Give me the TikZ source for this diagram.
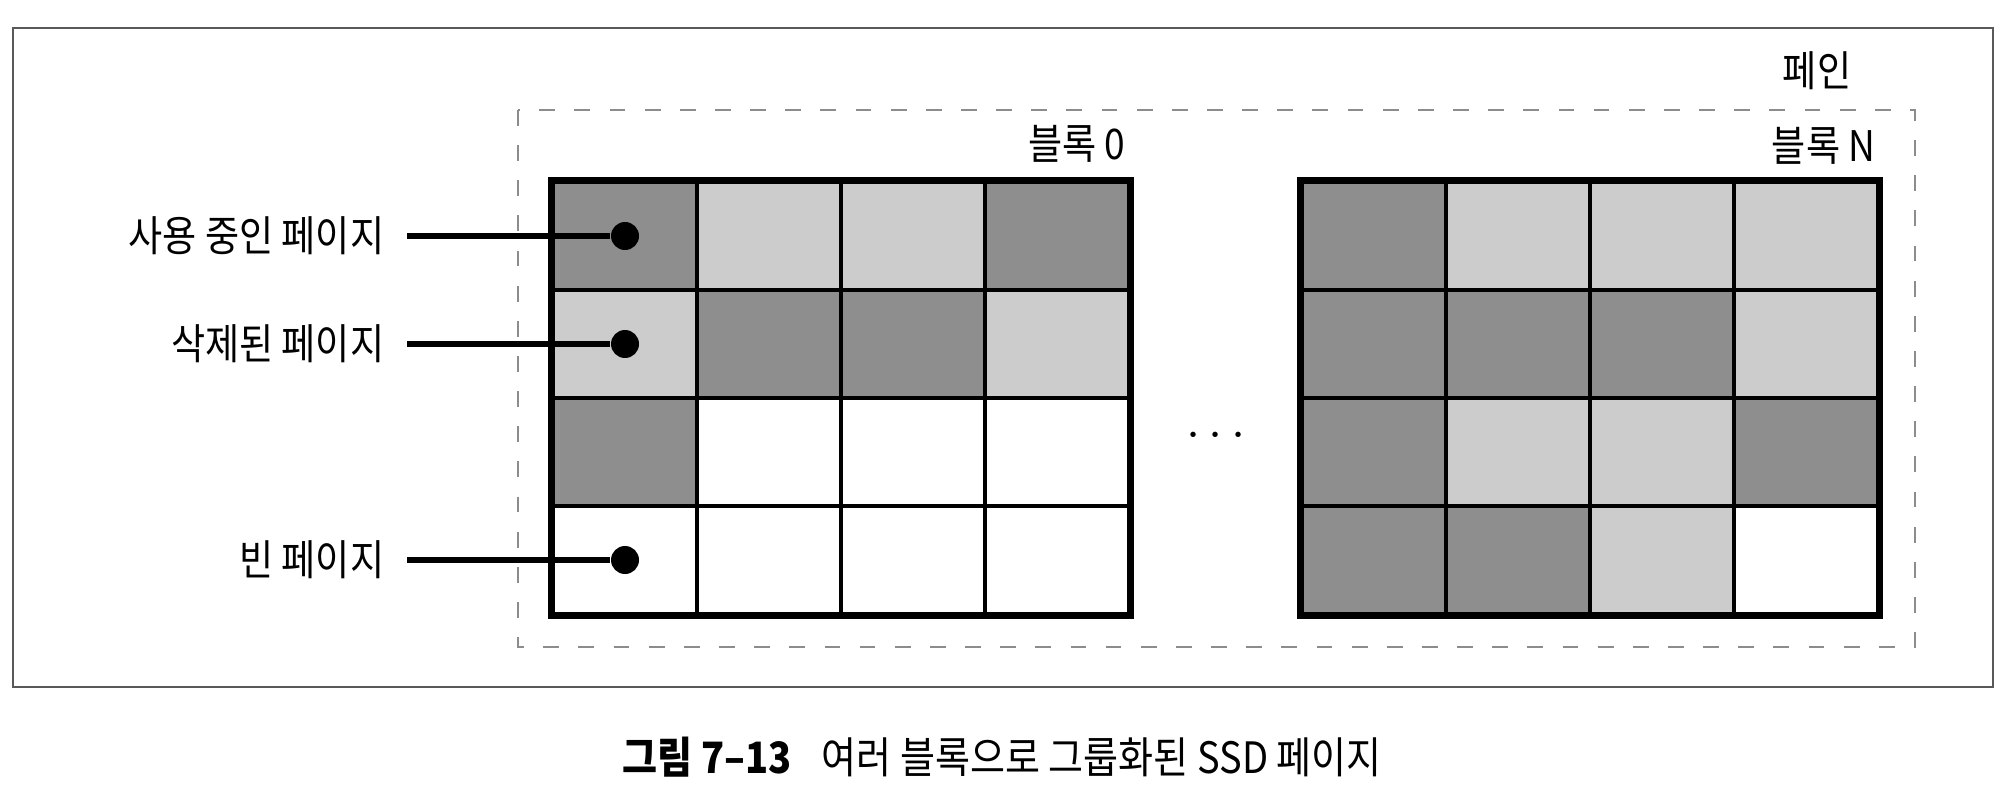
\documentclass[tikz,border=0pt]{standalone}
\usepackage{fontspec}
\newfontfamily\krfont{Noto Sans CJK KR}[FakeStretch=0.88]
\usetikzlibrary{positioning}
\definecolor{usedgray}{RGB}{142,142,142}
\definecolor{delgray}{RGB}{204,204,204}
\tikzset{
	pagecell/.style={rectangle, draw=black, line width=1.2pt, minimum width=14.4mm, minimum height=10.8mm, inner sep=0pt},
	pindot/.style={circle, fill=black, inner sep=0pt, minimum size=2.8mm},
	lbl/.style={font=\krfont\fontsize{12}{14}\selectfont, inner sep=0pt},
	legend/.style={lbl, anchor=east, inner xsep=2.2mm},
	pinline/.style={line width=1.6pt},
	mydashed/.style={dash pattern=on 4.5pt off 5.5pt}
}

\begin{document}
\begin{tikzpicture}
		\useasboundingbox (0,0) rectangle (20.14,-7.94);
		
		%frames
		\draw[black!65, line width=0.6pt] (0.13,-0.28) rectangle (19.93,-6.87);
		\draw[black!45, line width=0.5pt, mydashed] (5.18,-1.10) rectangle (19.15,-6.47);
		
		%blocks
		\foreach \r/\row in {1/{usedgray,delgray,delgray,usedgray}, 2/{delgray,usedgray,usedgray,delgray}, 3/{usedgray,white,white,white}, 4/{white,white,white,white}}
			\foreach \s [count=\c] in \row
				\node[pagecell, fill=\s] at ({6.25+1.44*(\c-1)},{-2.36-1.08*(\r-1)}) (a\r\c) {};
		\foreach \r/\row in {1/{usedgray,delgray,delgray,delgray}, 2/{usedgray,usedgray,usedgray,delgray}, 3/{usedgray,delgray,delgray,usedgray}, 4/{usedgray,usedgray,delgray,white}}
			\foreach \s [count=\c] in \row
				\node[pagecell, fill=\s] at ({13.74+1.44*(\c-1)},{-2.36-1.08*(\r-1)}) (b\r\c) {};
		\draw[line width=1.5pt] (a11.north west) rectangle (a44.south east);
		\draw[line width=1.5pt] (b11.north west) rectangle (b44.south east);
		
		%text
		\node[lbl] at (18.17,-0.71) (pane) {페인};
		\node[lbl, anchor=east] at (11.26,-1.44) (blk0) {블록 0};
		\node[lbl, anchor=east] at (18.76,-1.46) (blkN) {블록 N};
		\node[font=\fontsize{14}{16}\selectfont] at (12.16,-4.36) (more) {$\cdots$};
		\node[legend] at (4.07,0 |- a11) (used) {사용 중인 페이지};
		\node[legend] at (4.07,0 |- a21) (del) {삭제된 페이지};
		\node[legend] at (4.07,0 |- a41) (free) {빈 페이지};
		\node[lbl, anchor=west, font=\krfont\fontsize{12.3}{14}\selectfont] at (6.22,-7.57) (cap) {{\bfseries 그림 7–13}\hspace{3mm}여러 블록으로 그룹화된 SSD 페이지};
		
		%Lines
		\node[pindot] at (a11) (p1) {};
		\node[pindot] at (a21) (p2) {};
		\node[pindot] at (a41) (p3) {};
		\draw[pinline] (used.east) -- (p1);
		\draw[pinline] (del.east) -- (p2);
		\draw[pinline] (free.east) -- (p3);
		
\end{tikzpicture}
\end{document}
